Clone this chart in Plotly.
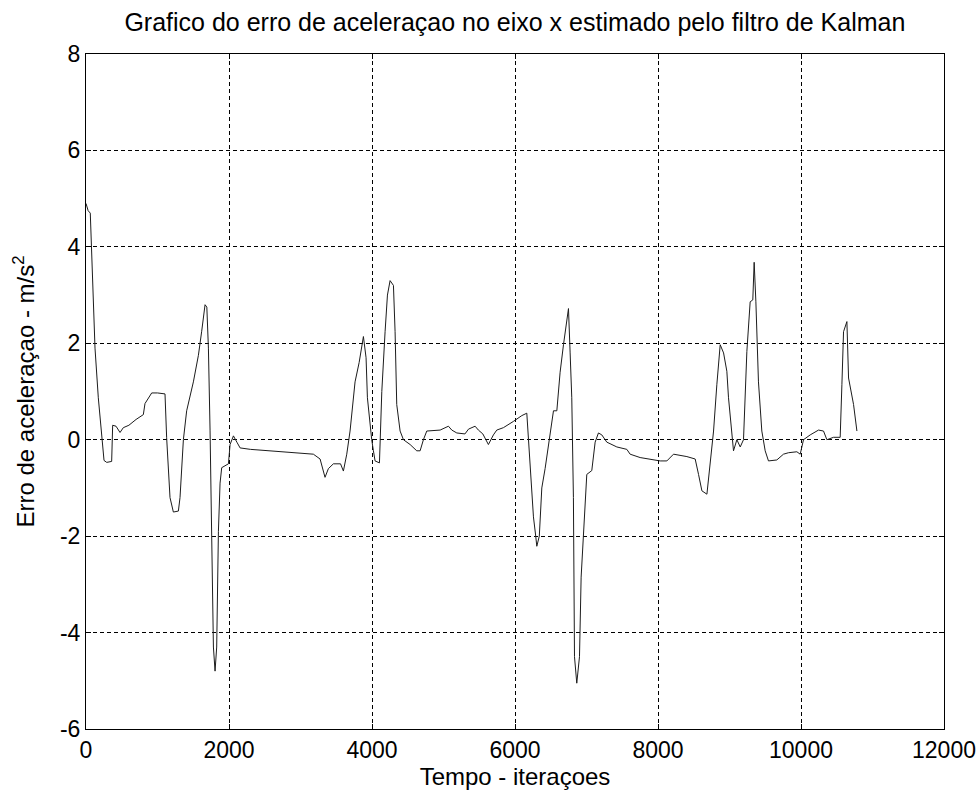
import plotly.graph_objects as go

# Kalman filter x-axis acceleration error (m/s^2) against iteration index
iteracoes = [
    0, 30, 60, 100, 126, 172, 219, 252, 290, 359, 373, 420, 476, 522, 600, 700,
    802, 825, 919, 1000, 1105, 1128, 1175, 1222, 1292, 1315, 1362, 1408, 1502,
    1572, 1618, 1665, 1690, 1712, 1735, 1758, 1782, 1805, 1828, 1852, 1875, 1898,
    1992, 2015, 2062, 2110, 2155, 2300, 2500, 2700, 2900, 3100, 3180, 3274, 3343,
    3390, 3460, 3560, 3600, 3647, 3693, 3763, 3820, 3880, 3917, 3936, 3964, 3996,
    4020, 4043, 4104, 4113, 4137, 4183, 4216, 4253, 4300, 4323, 4346, 4393, 4440,
    4533, 4626, 4673, 4719, 4766, 4953, 5069, 5116, 5186, 5300, 5350, 5442, 5488,
    5550, 5628, 5698, 5745, 5838, 5978, 6095, 6165, 6188, 6212, 6258, 6290, 6305,
    6340, 6375, 6421, 6491, 6538, 6585, 6631, 6678, 6724, 6748, 6771, 6794, 6817,
    6832, 6864, 6902, 6925, 6981, 7004, 7074, 7121, 7167, 7214, 7284, 7424, 7564,
    7610, 7750, 7890, 8030, 8124, 8217, 8404, 8520, 8567, 8614, 8684, 8730, 8777,
    8823, 8870, 8917, 8963, 8986, 9033, 9056, 9103, 9150, 9196, 9219, 9243, 9289,
    9326, 9345, 9369, 9405, 9452, 9499, 9545, 9662, 9755, 9825, 9942, 9989, 10035,
    10129, 10245, 10315, 10362, 10455, 10548, 10572, 10595, 10642, 10665, 10735,
    10782,
]
erro = [
    4.9, 4.75, 4.7, 3.0, 1.9, 0.87, 0.04, -0.43, -0.47, -0.45, 0.3, 0.28, 0.15,
    0.25, 0.3, 0.42, 0.52, 0.75, 0.97, 0.97, 0.95, 0.04, -1.2, -1.5, -1.48, -1.2,
    0.0, 0.6, 1.2, 1.75, 2.25, 2.8, 2.75, 1.9, 0.2, -1.9, -4.3, -4.8, -4.3, -1.9,
    -0.9, -0.58, -0.5, -0.1, 0.08, -0.05, -0.17, -0.2, -0.22, -0.25, -0.27, -0.28,
    -0.3, -0.4, -0.78, -0.6, -0.5, -0.5, -0.65, -0.3, 0.18, 1.2, 1.6, 2.14, 1.7,
    0.87, 0.38, 0.0, -0.23, -0.44, -0.48, 0.0, 1.0, 2.24, 3.0, 3.3, 3.2, 2.24,
    0.73, 0.18, 0.0, -0.1, -0.23, -0.23, 0.0, 0.18, 0.2, 0.28, 0.2, 0.14, 0.12,
    0.22, 0.28, 0.2, 0.12, -0.1, 0.1, 0.2, 0.25, 0.38, 0.5, 0.55, 0.0, -0.72,
    -1.6, -2.0, -2.21, -2.0, -1.0, -0.6, 0.18, 0.6, 0.6, 1.4, 1.97, 2.45, 2.72,
    1.8, 0.87, -1.2, -4.5, -5.05, -4.5, -2.85, -1.4, -0.72, -0.64, -0.05, 0.14,
    0.1, -0.05, -0.15, -0.2, -0.3, -0.37, -0.4, -0.44, -0.44, -0.3, -0.35, -0.4,
    -0.72, -1.06, -1.13, -0.5, 0.18, 1.14, 1.97, 1.8, 1.42, 0.87, 0.18, -0.23,
    0.0, -0.15, 0.0, 0.87, 1.83, 2.86, 2.9, 3.68, 2.86, 1.2, 0.18, -0.23, -0.44,
    -0.42, -0.3, -0.27, -0.25, -0.3, 0.0, 0.1, 0.2, 0.18, 0.0, 0.05, 0.05, 1.14,
    2.24, 2.45, 1.28, 0.73, 0.18,
]

x_ticks = [0, 2000, 4000, 6000, 8000, 10000, 12000]
y_ticks = [-6, -4, -2, 0, 2, 4, 6, 8]

FONT = "Liberation Sans, Arial, sans-serif"

fig = go.Figure(
    go.Scatter(
        x=iteracoes,
        y=erro,
        mode="lines",
        line=dict(color="#1c1c1c", width=1),
        showlegend=False,
    )
)

axis_common = dict(
    showline=True,
    linecolor="black",
    linewidth=1,
    mirror="ticks",
    ticks="inside",
    ticklen=5,
    tickcolor="black",
    showgrid=True,
    gridcolor="black",
    gridwidth=1,
    griddash="4px,3px",
    zeroline=False,
    automargin=False,
    ticklabeloverflow="allow",
    tickfont=dict(family=FONT, size=23, color="black"),
)

fig.update_xaxes(
    range=[0, 12000],
    tickvals=x_ticks,
    ticktext=[str(v) for v in x_ticks],
    title=dict(text="Tempo - iteraçoes", font=dict(family=FONT, size=24, color="black"), standoff=4),
    **axis_common,
)
fig.update_yaxes(
    range=[-6, 8],
    tickvals=y_ticks,
    ticktext=[str(v) for v in y_ticks],
    title=dict(text="Erro de aceleraçao - m/s<sup>2</sup>", font=dict(family=FONT, size=24, color="black"), standoff=18),
    **axis_common,
)

fig.update_layout(
    width=977,
    height=796,
    margin=dict(l=86, r=33, t=54, b=67),
    paper_bgcolor="white",
    plot_bgcolor="white",
    title=dict(
        text="Grafico do erro de aceleraçao no eixo x estimado pelo filtro de Kalman",
        font=dict(family=FONT, size=25, color="black"),
        x=0.527,
        xanchor="center",
        y=0.972,
        yanchor="middle",
    ),
)

fig.write_html("out.html")
